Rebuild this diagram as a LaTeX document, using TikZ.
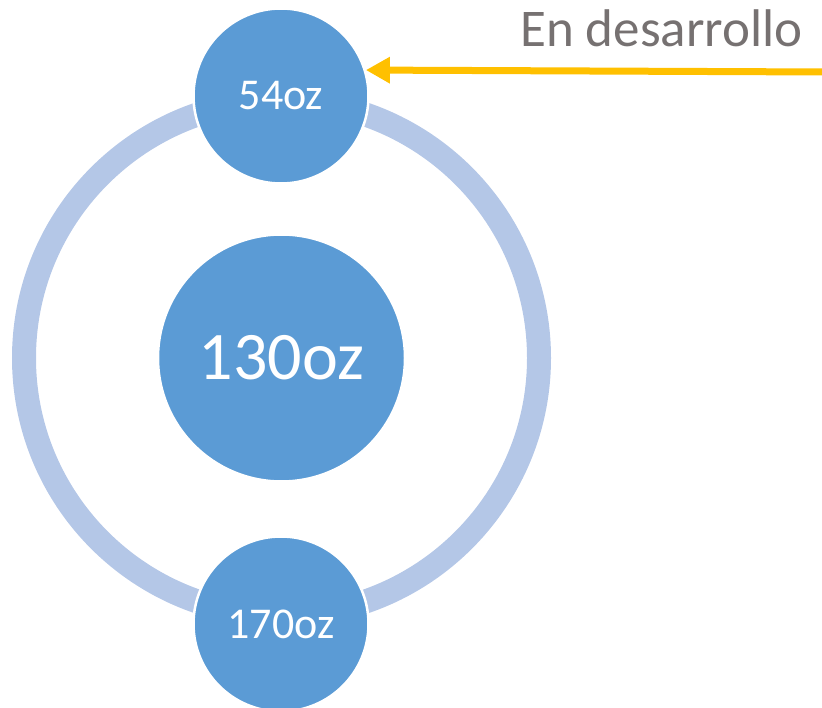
\documentclass[tikz,border=0pt]{standalone}
\usepackage{fontspec}
\setmainfont{Carlito}
\usepackage{xcolor}
\usetikzlibrary{arrows.meta}

\definecolor{bolla}{HTML}{5B9BD5}
\definecolor{anello}{HTML}{B4C7E7}
\definecolor{freccia}{HTML}{FFC000}
\definecolor{grigio}{HTML}{767171}

\tikzset{
	ring/.style={draw=anello,line width=24pt},
	bubble/.style={circle,fill=bolla,draw=white,line width=2.5pt,text=white,inner sep=0pt},
	arrowline/.style={draw=freccia,line width=7pt,-{Triangle[length=24pt,width=25pt]}}
}

\begin{document}
\begin{tikzpicture}[x=1pt,y=-1pt]
			\useasboundingbox (0,0) rectangle (822,708);
			% anello esterno
			\draw[ring] (281.5,358) circle (257.5);
			% bolle
			\node[bubble,minimum size=247pt] (centro) at (281.5,358)
				{\fontsize{68}{72}\selectfont 130oz};
			\node[bubble,minimum size=175pt] (alto) at (281,96)
				{\fontsize{44}{48}\selectfont 54oz};
			\node[bubble,minimum size=175pt] (basso) at (281,624)
				{\fontsize{44}{48}\selectfont 170oz};
			% etichetta e freccia
			\node[anchor=base,text=grigio] (etichetta) at (661.5,47)
				{\fontsize{53}{58}\selectfont En desarrollo};
			\coordinate (coda) at (824,72);
			\draw[arrowline] (coda) -- (alto.17);
		\end{tikzpicture}
\end{document}
